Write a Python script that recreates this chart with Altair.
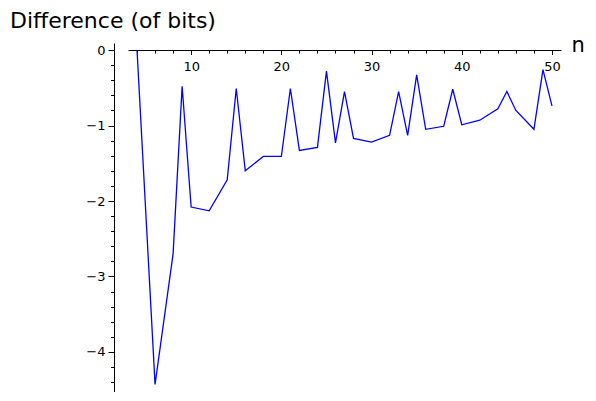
import altair as alt
import pandas as pd

n_vals = [4, 6, 8, 9, 10, 12, 14, 15, 16, 18, 20, 21, 22, 24, 25, 26, 27, 28,
          30, 32, 33, 34, 35, 36, 38, 39, 40, 42, 44, 45, 46, 48, 49, 50]
diff_vals = [0.0, -4.43, -2.70, -0.48, -2.08, -2.13, -1.72, -0.51, -1.60, -1.41,
             -1.41, -0.51, -1.33, -1.29, -0.28, -1.23, -0.55, -1.17, -1.22, -1.13,
             -0.55, -1.13, -0.33, -1.05, -1.01, -0.52, -0.99, -0.93, -0.78, -0.55,
             -0.80, -1.05, -0.26, -0.74]

x_ticks = list(range(4, 51, 2))
y_ticks = [round(-0.2 * i, 1) for i in range(0, 23)]
title_text = ["Difference (of bits)"]

x_domain = [3.0, 51.0]
y_domain = [-4.53, 0.093]

W, H = 433, 349
y0_px = H * (y_domain[1] - 0) / (y_domain[1] - y_domain[0])

df = pd.DataFrame({"n": n_vals, "d": diff_vals})

is_int = "abs(datum.value - round(datum.value)) < 1e-6"
is_ten = "abs(datum.value % 10) < 1e-6"

line = alt.Chart(df).mark_line(color="#0000ff", strokeWidth=1.3).encode(
    x=alt.X("n:Q", scale=alt.Scale(domain=x_domain, nice=False, zero=False),
            axis=alt.Axis(values=x_ticks, orient="bottom", offset=-(H - y0_px),
                          format="d",
                          labelExpr=f"{is_ten} ? datum.label : ''",
                          tickSize={"condition": {"test": is_ten, "value": 4.5}, "value": 3},
                          labelPadding=6, grid=False, domainColor="black", tickColor="black",
                          labelColor="black", labelFont="DejaVu Sans", labelFontSize=13,
                          title="n", titleFont="DejaVu Sans", titleFontSize=21,
                          titleFontWeight="normal", titleColor="black",
                          titleX=W + 10, titleY=1, titleAlign="left",
                          titleBaseline="alphabetic", titleAnchor="start")),
    y=alt.Y("d:Q", scale=alt.Scale(domain=y_domain, nice=False, zero=False),
            axis=alt.Axis(values=y_ticks, orient="left", offset=14,
                          format=".0f",
                          labelExpr=f"{is_int} ? datum.label : ''",
                          tickSize={"condition": {"test": is_int, "value": 6}, "value": 3.5},
                          labelPadding=3, grid=False, domainColor="black", tickColor="black",
                          labelColor="black", labelFont="DejaVu Sans", labelFontSize=13,
                          title=None)),
)

title = alt.Chart(pd.DataFrame({"t": title_text})).mark_text(
    align="left", baseline="alphabetic", font="DejaVu Sans", fontSize=22,
    color="black"
).encode(x=alt.value(-118), y=alt.value(-15.5), text="t:N")

chart = alt.layer(line, title).properties(
    width=W, height=H,
    autosize=alt.AutoSizeParams(type="none"),
    padding={"left": 120, "top": 35, "right": 27, "bottom": 0},
).configure_view(stroke=None)

chart.save("out.html", embed_options={"renderer": "svg", "actions": False})
